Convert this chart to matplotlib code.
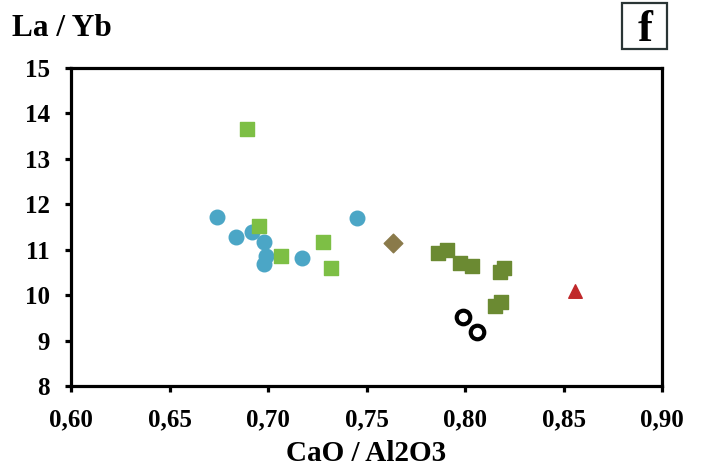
import matplotlib
matplotlib.use("Agg")
import matplotlib.pyplot as plt
from matplotlib.patches import Rectangle

plt.rcParams["font.family"] = ["Liberation Serif", "DejaVu Serif"]
plt.rcParams["font.weight"] = "bold"

# group data
blue_x = [0.674, 0.684, 0.692, 0.698, 0.699, 0.698, 0.717, 0.745]
blue_y = [11.71, 11.29, 11.39, 11.16, 10.87, 10.69, 10.81, 11.69]

lgreen_x = [0.6895, 0.6956, 0.7066, 0.7278, 0.7320]
lgreen_y = [13.65, 11.53, 10.86, 11.18, 10.59]

diamond_x = [0.7636]
diamond_y = [11.14]

olive_x = [0.7864, 0.7907, 0.7975, 0.8037, 0.8198, 0.8178, 0.8152, 0.8181]
olive_y = [10.93, 10.99, 10.70, 10.64, 10.60, 10.52, 9.76, 9.86]

ring_x = [0.7988, 0.8059]
ring_y = [9.51, 9.18]

tri_x = [0.8558]
tri_y = [10.09]

xticks = [0.60, 0.65, 0.70, 0.75, 0.80, 0.85, 0.90]
xticklabels = ["0,60", "0,65", "0,70", "0,75", "0,80", "0,85", "0,90"]
yticks = [8, 9, 10, 11, 12, 13, 14, 15]

fig = plt.figure(figsize=(7.01, 4.68), dpi=100)
ax = fig.add_axes([0.1013, 0.1752, 0.8431, 0.6795])

ax.scatter(blue_x, blue_y, s=110, marker="o", color="#4ba6c6", zorder=3)
ax.scatter(lgreen_x, lgreen_y, s=100, marker="s", color="#7dbf45", zorder=3)
ax.scatter(diamond_x, diamond_y, s=90, marker="D", color="#8a7a4a", zorder=3)
ax.scatter(olive_x, olive_y, s=100, marker="s", color="#6b8a32", zorder=3)
ax.scatter(ring_x, ring_y, s=95, marker="o", facecolor="white",
           edgecolor="black", linewidth=3, zorder=3)
ax.scatter(tri_x, tri_y, s=95, marker="^", color="#c0282a", zorder=3)

ax.set_xlim(0.60, 0.90)
ax.set_ylim(8, 15)
ax.set_xticks(xticks)
ax.set_xticklabels(xticklabels)
ax.set_yticks(yticks)

for sp in ax.spines.values():
    sp.set_linewidth(2.3)
ax.tick_params(direction="out", length=4.3, width=2.3, labelsize=18)
ax.tick_params(axis="x", pad=12)
ax.tick_params(axis="y", pad=11)
for lab in ax.get_xticklabels() + ax.get_yticklabels():
    lab.set_fontweight("bold")

ax.set_xlabel("CaO / Al2O3", fontsize=21, fontweight="bold")
ax.xaxis.set_label_coords(0.5, -0.17)

fig.text(0.017, 0.94, "La / Yb", fontsize=22.5, fontweight="bold", va="center", ha="left")
fig.patches.append(Rectangle((0.887, 0.895), 0.064, 0.0985, transform=fig.transFigure,
                             facecolor="white", edgecolor="#2a3535", linewidth=1.6))
fig.text(0.920, 0.912, "f", fontsize=32, fontweight="bold", va="baseline", ha="center")

fig.savefig("out.png", dpi=100)
